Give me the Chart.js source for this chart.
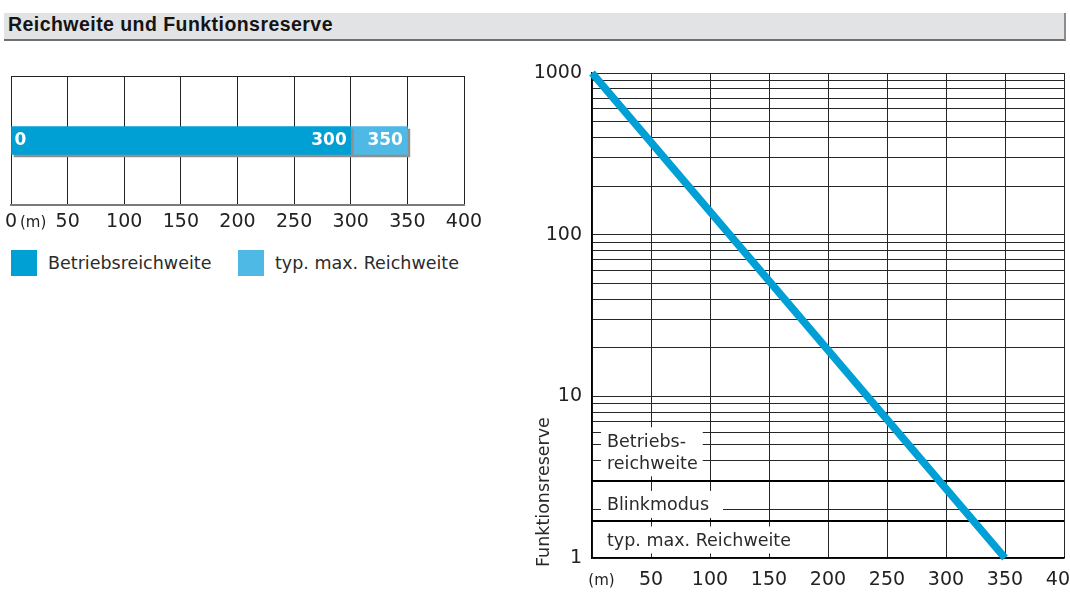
<!DOCTYPE html>
<html><head><meta charset="utf-8">
<script src="https://cdn.jsdelivr.net/npm/chart.js@4.4.1/dist/chart.umd.min.js"></script>
<style>
html,body{margin:0;padding:0;width:1070px;height:596px;overflow:hidden;background:#fff;font-family:"DejaVu Sans",sans-serif;}
#hdr{position:absolute;left:4px;top:13px;width:1060px;height:26px;background:#e2e3e5;border-bottom:2px solid #6f6f6f;border-right:2px solid #8c8c8c;}
#hdr span{position:absolute;left:4px;top:0;line-height:27px;font:bold 19.5px "Liberation Sans",Arial,sans-serif;letter-spacing:0.45px;color:#141414;}
#c1{position:absolute;left:0;top:60px;}
#c2{position:absolute;left:520px;top:55px;}
#legend{position:absolute;left:0;top:250px;width:500px;height:26px;}
.li{position:absolute;top:0;height:26px;white-space:nowrap;}
.sw{position:absolute;left:0;top:0;width:26px;height:26px;}
.lt{position:absolute;left:37px;top:0;line-height:26px;font-size:17.5px;color:#2b2b2b;}
</style></head><body>
<div id="hdr"><span>Reichweite und Funktionsreserve</span></div>
<canvas id="c1" width="500" height="185"></canvas>
<div id="legend"></div>
<canvas id="c2" width="550" height="541"></canvas>
<script>
// ---- data: range bar (left) ----
const rangeCategory = [''];
const operatingRange = [0, 300];      // Betriebsreichweite
const maxRange = [300, 350];          // typ. max. Reichweite
const rangeTicks = [0, 50, 100, 150, 200, 250, 300, 350, 400];
const rangeSeriesNames = ['Betriebsreichweite', 'typ. max. Reichweite'];

// ---- data: Funktionsreserve (right) ----
const distance = [0, 350];
const reserve = [1000, 1];
const distanceTicks = [0, 50, 100, 150, 200, 250, 300, 350, 400];
const reserveGrid = [1,2,3,4,5,6,7,8,9,10,20,30,40,50,60,70,80,90,100,200,300,400,500,600,700,800,900,1000];
const reserveLabels = [1, 10, 100, 1000];
const zoneLimits = [3, 1.7];
const zoneTexts = [['Betriebs-', 'reichweite'], ['Blinkmodus'], ['typ. max. Reichweite']];
const zoneTextAt = [[5.2, 3.8], [2.1], [1.265]];

const DARK = '#009fd4', LIGHT = '#4db9e4', LINE = '#009fd5';
Chart.defaults.font.family = '"DejaVu Sans", sans-serif';

// legend (HTML, from dataset labels)
const legendPos = [11, 238];
const legendEl = document.getElementById('legend');
[DARK, LIGHT].forEach((c, i) => {
  const d = document.createElement('div');
  d.className = 'li'; d.style.left = legendPos[i] + 'px';
  d.innerHTML = '<div class="sw" style="background:' + c + '"></div><div class="lt">' + rangeSeriesNames[i] + '</div>';
  legendEl.appendChild(d);
});

const rangePlugin = {
  id: 'rangeDeco',
  beforeDatasetsDraw(chart) {
    const {ctx, chartArea: a} = chart;
    ctx.save(); ctx.strokeStyle = '#222'; ctx.lineWidth = 1;
    ctx.beginPath(); ctx.moveTo(a.left, a.top + 0.5); ctx.lineTo(a.right, a.top + 0.5); ctx.stroke();
    ctx.restore();
    ctx.save();
    ctx.shadowColor = '#8f8f8f'; ctx.shadowOffsetX = 2.5; ctx.shadowOffsetY = 2.5; ctx.shadowBlur = 0;
  },
  afterDatasetsDraw(chart) {
    const ctx = chart.ctx; ctx.restore();
    const x = chart.scales.x, y = chart.scales.y;
    const yc = y.getPixelForValue(0);
    ctx.save();
    ctx.fillStyle = '#fff'; ctx.font = 'bold 17px "DejaVu Sans"'; ctx.textBaseline = 'middle';
    ctx.textAlign = 'left'; ctx.fillText(String(operatingRange[0]), x.getPixelForValue(operatingRange[0]) + 3.5, yc);
    ctx.textAlign = 'right';
    ctx.fillText(String(operatingRange[1]), x.getPixelForValue(operatingRange[1]) - 4, yc);
    ctx.fillText(String(maxRange[1]), x.getPixelForValue(maxRange[1]) - 4.5, yc);
    ctx.fillStyle = '#222'; ctx.font = '15px "DejaVu Sans"'; ctx.textAlign = 'left';
    ctx.fillText('(m)', x.getPixelForValue(0) + 9, x.top + 6 + 11.4 + 1);
    ctx.restore();
  }
};

new Chart(document.getElementById('c1'), {
  type: 'bar',
  data: {labels: rangeCategory, datasets: [
    {label: rangeSeriesNames[0], data: [operatingRange], backgroundColor: DARK, grouped: false, barThickness: 28, borderWidth: 0},
    {label: rangeSeriesNames[1], data: [maxRange], backgroundColor: LIGHT, grouped: false, barThickness: 28, borderWidth: 0}
  ]},
  options: {
    indexAxis: 'y', responsive: false, animation: false, devicePixelRatio: 1,
    layout: {padding: {left: 11, top: 16, right: 36, bottom: 0}},
    plugins: {legend: {display: false}, tooltip: {enabled: false}},
    scales: {
      x: {type: 'linear', min: 0, max: 400,
        afterBuildTicks: s => { s.ticks = rangeTicks.map(v => ({value: v})); },
        afterFit: s => { s.height = 40; s.paddingLeft = 0; s.paddingRight = 0; },
        grid: {color: '#222', lineWidth: 1, drawTicks: false},
        border: {display: true, color: '#7a7a7a', width: 2},
        ticks: {padding: 6, color: '#222', font: {size: 19}, autoSkip: false, maxRotation: 0}
      },
      y: {display: false}
    }
  },
  plugins: [rangePlugin]
});

const reservePlugin = {
  id: 'reserveDeco',
  beforeDatasetsDraw(chart) {
    const {ctx, chartArea: a, scales: {x, y}} = chart;
    ctx.save();
    ctx.font = '17.5px "DejaVu Sans"';
    ctx.textBaseline = 'middle'; ctx.textAlign = 'left';
    const tx = a.left + 15, bx = a.left + 9;
    const padR = [5, 14, 5];
    zoneTexts.forEach((lines, i) => {
      const ys = zoneTextAt[i].map(v => y.getPixelForValue(v));
      const w = Math.max(...lines.map(t => ctx.measureText(t).width));
      ctx.fillStyle = '#fff';
      const top = ys[0] - 15, bot = ys[ys.length - 1] + 12;
      ctx.fillRect(bx, top, tx - bx + w + padR[i], bot - top);
    });
    ctx.strokeStyle = '#000'; ctx.lineWidth = 2;
    zoneLimits.forEach(v => {
      const py = Math.round(y.getPixelForValue(v));
      ctx.beginPath(); ctx.moveTo(a.left, py); ctx.lineTo(a.right, py); ctx.stroke();
    });
    ctx.fillStyle = '#2a2a2a';
    zoneTexts.forEach((lines, i) => {
      lines.forEach((t, j) => ctx.fillText(t, tx, y.getPixelForValue(zoneTextAt[i][j])));
    });
    // axis title
    ctx.save();
    ctx.translate(a.left - 47.7, a.bottom + 9);
    ctx.rotate(-Math.PI / 2);
    ctx.fillText('Funktionsreserve', 0, 0);
    ctx.restore();
    // unit label
    ctx.fillStyle = '#222'; ctx.font = '15px "DejaVu Sans"';
    ctx.fillText('(m)', x.getPixelForValue(0) - 3.7, x.top + 11 + 11.4 + 1);
    ctx.restore();
  }
};

new Chart(document.getElementById('c2'), {
  type: 'line',
  data: {datasets: [{
    label: 'Funktionsreserve',
    data: distance.map((d, i) => ({x: d, y: reserve[i]})),
    borderColor: LINE, borderWidth: 7.5, pointRadius: 0, fill: false, tension: 0,
    clip: false, borderCapStyle: 'butt'
  }]},
  options: {
    responsive: false, animation: false, devicePixelRatio: 1,
    layout: {padding: {left: 0, top: 18, right: 6, bottom: 0}},
    plugins: {legend: {display: false}, tooltip: {enabled: false}},
    scales: {
      x: {type: 'linear', min: 0, max: 400,
        afterBuildTicks: s => { s.ticks = distanceTicks.map(v => ({value: v})); },
        afterFit: s => { s.height = 38; s.paddingLeft = 0; s.paddingRight = 0; },
        grid: {color: '#262626', lineWidth: 1, drawTicks: false},
        border: {color: '#000', width: 1.5},
        ticks: {padding: 11, color: '#222', font: {size: 19}, autoSkip: false, maxRotation: 0,
          callback: v => v === 0 ? '' : String(v)}
      },
      y: {type: 'logarithmic', min: 1, max: 1000,
        afterBuildTicks: s => { s.ticks = reserveGrid.map(v => ({value: v})); },
        afterFit: s => { s.width = 72; s.paddingTop = 0; s.paddingBottom = 0; },
        grid: {color: '#262626', lineWidth: 1, drawTicks: false},
        border: {color: '#000', width: 1.5},
        ticks: {padding: 10, color: '#222', font: {size: 19}, autoSkip: false,
          callback: v => reserveLabels.includes(v) ? String(v) : ''}
      }
    }
  },
  plugins: [reservePlugin]
});
</script>
</body></html>
